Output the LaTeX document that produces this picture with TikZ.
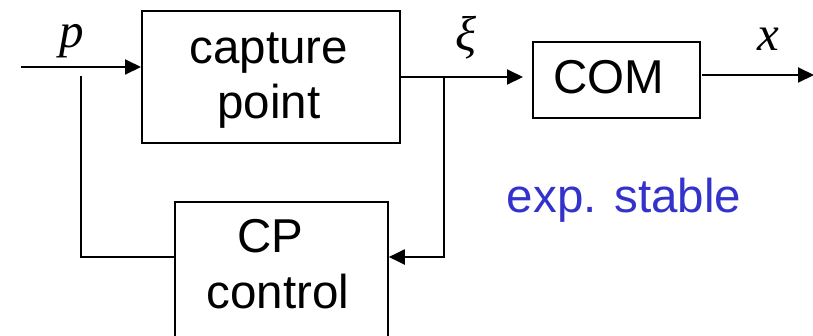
\documentclass[tikz,border=0pt]{standalone}
\usepackage{fontspec}
\setmainfont{Liberation Sans}
\newfontfamily\mathserif{Liberation Serif}
\usetikzlibrary{arrows.meta}
\definecolor{stableblue}{RGB}{51,51,204}
\tikzset{
  blockbox/.style={draw, line width=1.8pt, inner sep=0pt, anchor=north west},
  blocktext/.style={font=\fontsize{47.5}{55}\selectfont, inner sep=0pt, anchor=base},
  varlabel/.style={font=\fontsize{49}{55}\mathserif\itshape, inner sep=0pt, anchor=base},
  conn/.style={line width=2pt},
  arr/.style={conn, -{Triangle[length=16pt,width=15pt]}}
}
\begin{document}
\begin{tikzpicture}[x=1pt,y=-1pt]
\useasboundingbox (0,0) rectangle (813,335);
\clip (0,0) rectangle (813,335);
% blocks
\node[blockbox, minimum width=258pt, minimum height=132pt] (cp) at (141,10) {};
\node[blockbox, minimum width=167pt, minimum height=76pt] (com) at (532,41) {};
\node[blockbox, minimum width=213pt, minimum height=170pt] (cpc) at (174,201) {};
% block texts
\node[blocktext] (t1) at (269,63) {capture};
\node[blocktext] (t2) at (269,118) {point};
\node[blocktext] (t3) at (609,93) {COM};
\node[blocktext] (t4) at (270,252) {CP};
\node[blocktext] (t5) at (278,308) {control};
\node[blocktext, text=stableblue] (t6) at (624,212) {exp. stable};
% variable labels
\node[varlabel] (lp) at (72,47) {p};
\node[varlabel] (lxi) at (466,50) {ξ};
\node[varlabel] (lx) at (768,50) {x};
% coordinates
\coordinate (in0) at (21,67);
\coordinate (j) at (444,77);
\coordinate (jd) at (444,257);
\coordinate (fb) at (81,257);
\coordinate (fbtop) at (81,76);
\coordinate (cpout) at (399,77);
\coordinate (comout) at (702,75);
\coordinate (xend) at (814,75);
% connectors
\draw[arr] (in0) -- (in0 -| cp.west);
\draw[arr, shorten >=9pt] (cpout) -- (cpout -| com.west);
\draw[arr] (j) -- (jd) -- (jd -| cpc.east);
\draw[arr] (comout) -- (xend);
\draw[conn] (fb -| cpc.west) -- (fb) -- (fbtop);
\end{tikzpicture}
\end{document}
